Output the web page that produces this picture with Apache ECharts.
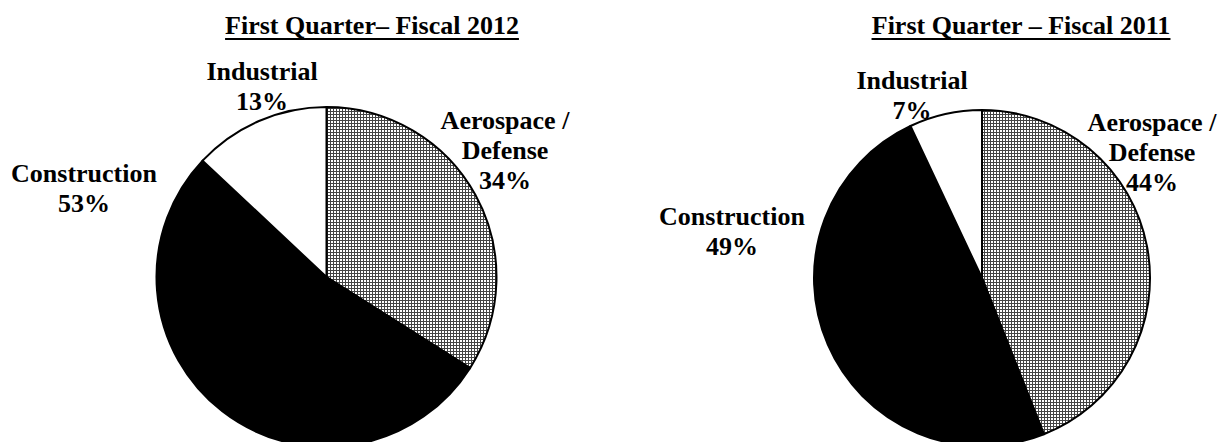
<!DOCTYPE html>
<html>
<head>
<meta charset="utf-8">
<script src="https://cdn.jsdelivr.net/npm/echarts@6/dist/echarts.min.js"></script>
<style>
html,body{margin:0;padding:0;background:#fff;}
#chart{width:1222px;height:442px;}
</style>
</head>
<body>
<div id="chart"></div>
<script>
// ---- data ----
var categories = ['Aerospace /\nDefense', 'Construction', 'Industrial'];
var fiscal2012 = [34, 53, 13];
var fiscal2011 = [44, 49, 7];
var titles = ['First Quarter\u2013 Fiscal 2012', 'First Quarter \u2013 Fiscal 2011'];

// ---- styles ----
var FONT = '"Liberation Serif", "Times New Roman", serif';
var pat = document.createElement('canvas');
pat.width = 3; pat.height = 3;
var pc = pat.getContext('2d');
pc.fillStyle = '#ffffff'; pc.fillRect(0, 0, 3, 3);
pc.fillStyle = '#444444'; pc.fillRect(0, 0, 3, 1); pc.fillRect(0, 0, 1, 3);
var fills = [{image: pat, repeat: 'repeat'}, '#000000', '#ffffff'];

var pies = [
  {center: [326.5, 277], radius: 170, title: [372, 25],
   labels: [[505, 150], [84, 188], [262, 86]]},
  {center: [982, 278], radius: 168, title: [1021, 25],
   labels: [[1152, 152], [732, 231], [912, 95]]}
];
var seriesData = [fiscal2012, fiscal2011];

function textWidth(t, font) {
  var c = document.createElement('canvas').getContext('2d');
  c.font = font;
  return c.measureText(t).width;
}

var graphics = [];
pies.forEach(function (p, i) {
  var f = 'bold 26px ' + FONT;
  var w = textWidth(titles[i], f);
  graphics.push({type: 'text', x: p.title[0], y: p.title[1],
    style: {text: titles[i], font: f, fill: '#000', align: 'center', verticalAlign: 'middle'}});
  graphics.push({type: 'line', shape: {x1: p.title[0] - w / 2, y1: p.title[1] + 14, x2: p.title[0] + w / 2, y2: p.title[1] + 14},
    style: {stroke: '#000', lineWidth: 2}});
});

var series = pies.map(function (p, si) {
  return {
    type: 'pie',
    center: p.center,
    radius: p.radius,
    startAngle: 90,
    clockwise: true,
    silent: true,
    animation: false,
    avoidLabelOverlap: false,
    itemStyle: {borderColor: '#000', borderWidth: 2},
    label: {
      show: true, position: 'outside', formatter: '{b}\n{c}%',
      fontFamily: FONT, fontWeight: 'bold', fontSize: 26, lineHeight: 30, color: '#000', align: 'center'
    },
    labelLine: {show: false},
    labelLayout: function (params) {
      var pos = p.labels[params.dataIndex];
      return {x: pos[0], y: pos[1], align: 'center', verticalAlign: 'middle'};
    },
    data: seriesData[si].map(function (v, k) {
      return {name: categories[k], value: v, itemStyle: {color: fills[k]}};
    })
  };
});

var chart = echarts.init(document.getElementById('chart'), null, {renderer: 'svg'});
chart.setOption({
  backgroundColor: '#fff',
  animation: false,
  graphic: graphics,
  series: series
});
</script>
</body>
</html>
